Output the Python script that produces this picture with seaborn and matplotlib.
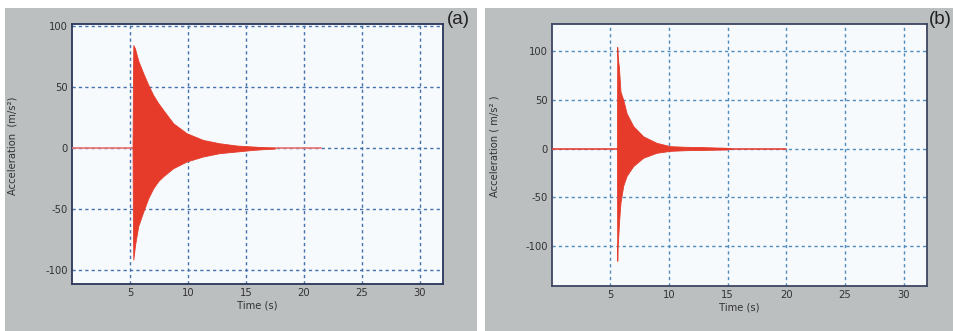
import pandas as pd
import seaborn as sns
import matplotlib.pyplot as plt
from matplotlib.patches import Rectangle

# ---- data (envelope of the decaying response) ----
# panel (a)
time_a = [5.22, 5.26, 5.29, 5.43, 5.71, 6.15, 6.58, 7.00, 7.44, 7.87, 8.73,
          9.89, 11.3, 12.7, 14.2, 15.6, 16.5, 17.5]
upper_a = [0, 60, 84.7, 82, 72, 61.5, 52, 43.7, 37, 31.4, 20.5,
           12.3, 6.8, 4.1, 2.2, 1.4, 0.8, 0.3]
lower_a = [0, -70, -91.5, -80, -64, -52, -41, -33, -27, -23, -16.4,
           -10.9, -6.8, -4.1, -2.7, -1.4, -0.8, -0.3]
base_a_t = [0, 21.5]
base_a_y = [0, 0]

# panel (b)
time_b = [5.56, 5.59, 5.62, 5.68, 5.73, 5.82, 5.87, 6.10, 6.39, 6.95, 7.80,
          8.94, 10.1, 11.5, 12.7, 14.9, 15.3]
upper_b = [0, 104, 96, 88, 84, 66, 58, 50, 36, 23, 12.5,
           5.8, 2.4, 1.7, 1.5, 0.7, 0.2]
lower_b = [0, -115, -100, -89, -78, -62, -55, -38, -28, -18, -9.5,
           -4.4, -2.4, -1.7, -1.5, -1.0, -0.2]
base_b_t = [0, 20]
base_b_y = [0, 0]

x_ticks = [5, 10, 15, 20, 25, 30]
y_ticks = [-100, -50, 0, 50, 100]

sns.set_style("white")
plt.rcParams['font.family'] = ['DejaVu Sans']
plt.rcParams['font.stretch'] = 'condensed'
plt.rcParams['axes.unicode_minus'] = False

fig = plt.figure(figsize=(9.54, 3.31), dpi=100)
fig.patch.set_facecolor("white")

W, H = 954.0, 331.0
# grey panel backgrounds
for x0, x1 in [(5, 477), (485, 954)]:
    fig.add_artist(Rectangle((x0 / W, 0), (x1 - x0) / W, 1 - 8 / H,
                             transform=fig.transFigure, facecolor="#bbbfbf",
                             edgecolor="none", zorder=-5))

panels = [
    dict(rect=[72 / W, 1 - 284 / H, (443 - 72) / W, (284 - 24) / H],
         t=time_a, up=upper_a, lo=lower_a, bt=base_a_t, by=base_a_y,
         ylim=(-111.5, 102), grid="#4470ac", spine="#2a3558",
         base="#ec7070", ylabel="Acceleration  (m/s²)", tag="(a)", tag_x=447,
         ylab_x=13),
    dict(rect=[551.7 / W, 1 - 285.7 / H, (927 - 551.7) / W, (285.7 - 24) / H],
         t=time_b, up=upper_b, lo=lower_b, bt=base_b_t, by=base_b_y,
         ylim=(-140.5, 127.5), grid="#4f8cbc", spine="#3c4660",
         base="#e8423a", ylabel="Acceleration ( m/s² )", tag="(b)", tag_x=929,
         ylab_x=495),
]

for p in panels:
    ax = fig.add_axes(p["rect"])
    ax.set_facecolor("#f6fafd")

    df_base = pd.DataFrame({"t": p["bt"], "a": p["by"]})
    sns.lineplot(data=df_base, x="t", y="a", ax=ax, color=p["base"],
                 linewidth=1.2, zorder=3)
    ax.fill_between(p["t"], p["lo"], p["up"], color="#e63b2a",
                    linewidth=0.6, edgecolor="#e63b2a", zorder=4)

    ax.set_xlim(0, 32)
    ax.set_ylim(*p["ylim"])
    ax.set_xticks(x_ticks)
    ax.set_yticks(y_ticks)
    ax.grid(True, color=p["grid"], linestyle=(0, (2.3, 2.3)), linewidth=1.0)
    ax.set_axisbelow(True)

    ax.tick_params(axis="x", direction="in", length=7.5, width=1.3,
                   color=p["spine"], labelsize=8, labelcolor="#333333", pad=3)
    ax.tick_params(axis="y", direction="in", length=11, width=1.3,
                   color=p["spine"], labelsize=8, labelcolor="#333333", pad=3)
    for s in ax.spines.values():
        s.set_color(p["spine"])
        s.set_linewidth(1.3)

    ax.set_xlabel("Time (s)", fontsize=8, color="#333333", labelpad=2)
    ax.set_ylabel("")
    fig.text(p["ylab_x"] / W, 1 - 146 / H, p["ylabel"], rotation=90,
             ha="center", va="center", fontsize=8, color="#333333")
    fig.text(p["tag_x"] / W, 1 - 20 / H, p["tag"], ha="left", va="center",
             fontsize=13.5, color="#222222", family=["Liberation Sans", "DejaVu Sans"],
             fontstretch="normal")

fig.savefig("out.png", dpi=100)
